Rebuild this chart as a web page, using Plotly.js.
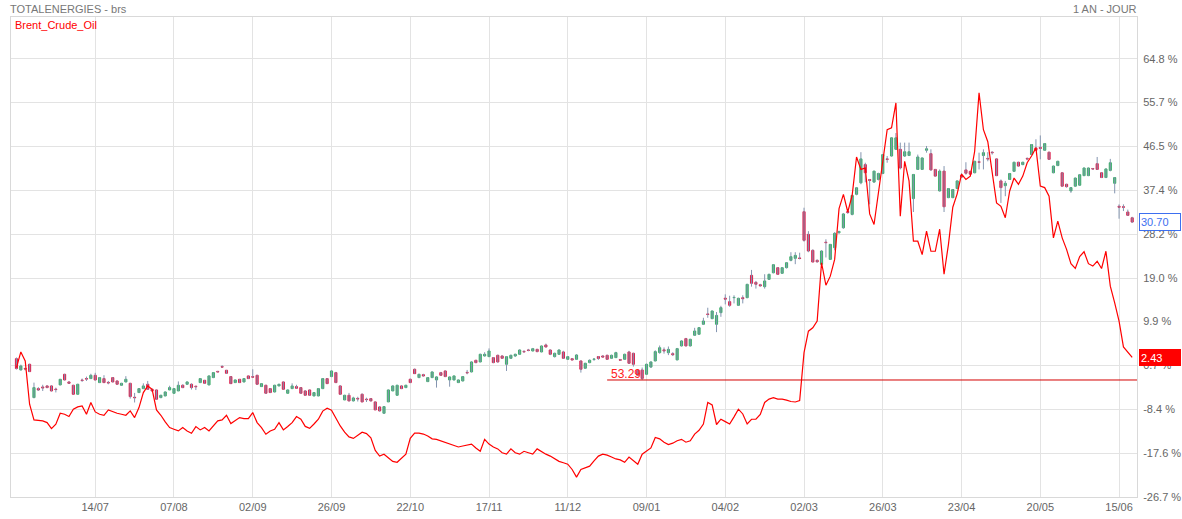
<!DOCTYPE html>
<html>
<head>
<meta charset="utf-8">
<script src="https://cdn.plot.ly/plotly-3.0.1.min.js"></script>
<style>html,body{margin:0;padding:0;background:#fff;}#chart{width:1182px;height:519px;}</style>
</head>
<body>
<div id="chart"></div>
<script>
// ---------- DATA (percent change shown on the right axis) ----------
const firstDay = '2025-06-18';
const holidays = ['2025-12-25','2025-12-26','2026-01-01','2026-04-03','2026-04-06','2026-05-01'];
const tickDates = ['2025-07-14','2025-08-07','2025-09-02','2025-09-26','2025-10-22','2025-11-17','2025-12-11','2026-01-09','2026-02-04','2026-03-02','2026-03-26','2026-04-23','2026-05-20','2026-06-15'];
const tickLabels = ['14/07','07/08','02/09','26/09','22/10','17/11','11/12','09/01','04/02','02/03','26/03','23/04','20/05','15/06'];
const yTicks = [64.8, 55.7, 46.5, 37.4, 28.2, 19.0, 9.9, 0.7, -8.4, -17.6, -26.7];

const openP = [2.16,-0.2,0.1,0.98,-5.98,-4.1,-3.75,-3.54,-3.54,-4.2,-3.33,-1.11,-2.71,-3.4,-5.28,-2.3,-2.0,-2.01,-1.32,-2.85,-2.01,-2.8,-1.8,-2.5,-3.4,-2.71,-2.99,-5.9,-4.93,-4.1,-3.19,-4.24,-4.38,-5.98,-5.63,-4.38,-5.07,-4.59,-3.4,-3.19,-3.19,-3.6,-2.85,-2.36,-3.33,-1.8,-0.5,0.5,-0.27,-1.59,-2.85,-2.15,-2.71,-1.45,-1.6,-1.32,-3.68,-3.4,-4.1,-4.8,-3.54,-2.71,-5.07,-4.1,-3.68,-3.89,
-4.59,-4.38,-5.63,-5.63,-4.1,-2.01,-1.59,-0.76,-3.54,-6.47,-5.49,-6.67,-6.15,-5.28,-6.3,-6.19,-6.88,-7.93,-9.25,-6.88,-4.59,-5.49,-3.54,-3.89,-2.15,-0.06,-1.8,-1.18,-2.64,-1.8,-2.29,-0.76,-0.41,-2.29,-2.29,-2.85,-2.5,-0.7,-0.62,1.82,1.47,2.72,2.58,2.37,2.86,2.72,0.98,2.23,2.72,3.07,3.68,3.95,3.76,4.11,3.56,5.02,3.97,2.58,3.07,3.56,2.02,2.16,2.02,1.68,0.15,1.33,2.0,2.6,2.72,2.86,2.23,2.37,1.95,2.02,3.56,3.28,-0.3,-0.2,-1.1,0.4,1.68,
3.42,4.0,3.4,3.2,1.9,4.82,6.35,4.82,7.04,7.25,9.34,11.5,10.52,9.34,11.77,14.8,14.07,14.9,13.3,14.9,14.9,19.57,18.1,17.6,17.2,18.73,20.1,21.17,19.99,21.17,22.7,23.12,23.2,32.86,28.13,24.79,22.7,21.87,26.5,22.9,25.34,
28.5,29.5,32.9,32.3,36.5,38.9,42.7,39.6,39.05,39.6,40.86,43.9,44.5,45.9,45.9,44.5,44.6,35.6,41.7,41.7,45.7,45.0,41.7,37.2,41.35,35.8,35.8,37.7,40.5,41.6,41.3,41.0,43.3,44.6,44.0,45.3,43.9,39.3,38.3,39.6,41.3,43.2,42.7,44.0,44.8,46.2,46.3,45.7,45.3,41.0,42.5,41.0,38.6,37.2,38.2,38.4,40.4,40.4,41.9,42.9,41.0,40.0,41.5,38.8,34.0,33.9,32.8,31.6];
const highP = [2.4,0.9,0.3,1.1,-2.85,-3.8,-3.3,-3.4,-3.4,-3.9,-2.1,-1.0,-2.6,-3.3,-3.1,-2.0,-1.6,-1.0,-0.8,-1.7,-1.3,-2.5,-1.7,-2.4,-2.9,-1.5,-2.9,-5.0,-4.0,-3.0,-2.5,-4.1,-4.3,-5.4,-4.7,-3.5,-4.0,-2.6,-3.2,-2.6,-3.0,-3.5,-1.9,-2.3,-1.4,-0.7,-0.4,0.8,-0.2,-1.5,-2.2,-2.1,-1.9,-1.4,-0.06,-1.2,-3.0,-3.3,-4.0,-3.3,-3.1,-2.6,-4.3,-3.0,-3.3,-3.8,
-4.4,-4.3,-4.9,-4.0,-1.9,-1.9,-0.3,-0.6,-3.4,-5.4,-5.0,-5.8,-5.8,-5.1,-6.0,-6.1,-6.8,-7.8,-7.8,-4.3,-3.4,-3.3,-3.4,-3.3,-2.0,0.1,-1.0,-1.0,-1.7,-0.5,-1.5,-0.6,-0.3,-1.6,-1.4,-2.2,-1.5,-0.2,1.6,1.9,3.2,3.5,4.3,2.5,3.0,2.9,2.7,3.0,3.2,4.1,3.9,4.2,4.4,4.2,4.9,5.3,4.1,3.4,4.1,3.8,2.7,2.3,3.1,1.8,1.3,2.0,2.3,2.7,2.9,3.0,3.0,3.6,2.1,3.2,3.8,3.4,0.0,0.3,1.1,1.6,3.9,
4.9,4.5,4.7,3.5,4.4,6.0,6.5,6.3,8.6,8.7,10.7,12.8,12.2,11.9,13.2,15.6,15.3,15.4,14.9,15.4,17.8,20.7,18.4,17.8,19.8,19.9,21.9,21.3,21.3,22.3,24.4,24.4,24.3,33.7,28.8,25.0,22.9,24.8,27.1,26.1,28.6,
28.9,32.6,33.2,36.4,38.0,45.3,43.1,39.7,41.4,41.0,44.9,44.5,48.4,49.3,47.3,47.3,47.3,40.7,44.8,44.2,46.6,45.9,41.8,41.7,42.4,37.8,37.6,39.4,40.9,43.2,41.4,43.5,45.2,45.9,45.3,45.5,44.0,39.6,39.3,40.9,43.3,43.3,43.3,44.2,47.0,48.0,48.8,47.2,45.4,42.5,43.5,41.1,38.7,38.0,40.0,40.7,42.1,42.1,42.0,44.3,41.1,41.9,43.9,40.1,34.4,34.4,33.3,31.8];
const lowP = [-0.1,-0.3,-0.3,-0.6,-6.1,-4.6,-4.6,-4.0,-4.7,-4.9,-3.4,-2.4,-3.1,-5.3,-5.3,-2.7,-2.5,-2.1,-2.4,-2.9,-2.9,-3.2,-2.8,-3.3,-3.5,-2.8,-6.19,-7.0,-5.0,-4.2,-4.3,-4.7,-6.4,-6.1,-5.7,-4.4,-5.1,-4.6,-4.0,-3.3,-4.3,-4.4,-2.9,-3.1,-3.4,-1.9,-0.7,0.3,-1.0,-3.1,-2.9,-2.9,-2.8,-2.1,-1.8,-3.3,-3.7,-5.2,-5.0,-4.9,-3.6,-4.3,-5.1,-4.2,-4.1,-5.2,
-5.6,-5.6,-5.7,-5.7,-4.2,-3.1,-1.7,-2.9,-5.4,-6.5,-6.8,-6.8,-6.8,-6.95,-6.9,-6.8,-8.6,-8.9,-9.4,-6.9,-4.6,-5.5,-4.2,-4.0,-2.9,-1.0,-1.9,-1.6,-2.7,-1.9,-3.89,-1.4,-1.7,-3.7,-2.4,-2.9,-2.6,-1.1,-0.7,1.2,1.4,2.6,2.5,1.2,1.3,2.1,-0.41,2.1,2.5,3.0,3.4,3.7,3.7,3.5,3.5,4.5,2.9,2.4,3.0,2.1,1.9,1.8,1.9,-0.76,0.0,1.2,1.7,1.9,2.4,1.9,2.1,2.3,1.7,1.9,1.1,0.5,-1.5,-2.3,-1.2,0.2,1.6,
3.2,3.2,2.9,2.7,1.8,4.7,4.7,4.7,6.9,7.1,9.2,10.7,10.4,7.7,10.9,13.5,13.0,13.7,13.2,13.7,14.8,17.2,16.8,17.2,16.8,18.6,20.0,19.7,19.9,21.0,22.5,21.9,22.9,26.6,24.4,22.3,22.2,21.7,23.3,22.8,24.8,
28.2,29.3,32.4,32.1,36.3,38.6,39.0,34.4,38.9,39.4,40.7,43.1,44.4,45.8,41.7,44.3,44.5,32.8,41.6,41.6,45.2,41.4,40.2,37.1,32.8,35.7,35.7,37.6,39.9,40.6,40.6,40.9,41.7,41.7,43.4,44.8,40.3,34.7,36.1,39.5,41.2,42.3,42.6,43.6,44.7,45.7,43.8,45.6,43.7,40.9,42.4,38.1,37.9,36.8,38.1,38.3,40.3,40.3,41.6,41.6,39.9,39.9,41.3,36.7,31.4,33.0,32.0,30.5];
const closeP = [0.08,0.63,0.0,-0.55,-3.89,-4.38,-3.95,-3.89,-4.59,-4.3,-2.15,-2.29,-2.99,-5.28,-3.19,-2.4,-2.1,-1.32,-2.29,-1.8,-2.85,-2.9,-2.71,-3.19,-2.99,-2.15,-5.77,-6.0,-4.1,-3.54,-4.24,-4.59,-6.33,-5.49,-4.8,-3.89,-4.1,-3.4,-3.89,-2.71,-3.89,-3.7,-2.01,-2.99,-1.45,-0.76,-0.6,0.4,-0.9,-3.06,-2.29,-2.85,-2.01,-2.01,-1.7,-3.19,-3.06,-5.07,-4.93,-3.4,-3.19,-4.24,-4.38,-3.54,-4.03,-5.07,
-5.49,-5.49,-4.93,-4.1,-2.01,-3.06,-0.41,-2.85,-5.28,-5.49,-6.67,-6.05,-6.25,-6.88,-6.4,-6.67,-8.55,-8.76,-7.86,-4.38,-3.54,-3.4,-4.1,-3.4,-2.85,-0.97,-1.11,-1.45,-1.8,-0.62,-1.66,-1.32,-1.59,-1.66,-1.45,-2.29,-1.59,-0.8,1.47,1.33,3.07,3.07,3.76,1.33,1.47,2.23,2.58,2.86,3.07,3.97,3.6,3.9,4.25,3.63,4.81,4.6,3.07,3.28,3.97,2.23,2.58,1.89,2.93,-0.06,1.19,1.82,2.05,2.2,2.51,2.02,2.86,3.42,1.85,3.07,1.19,0.98,-1.3,-2.0,0.99,1.47,3.63,
4.45,3.8,4.1,3.0,4.26,5.86,4.82,6.21,7.94,8.64,10.03,11.4,12.12,11.2,12.82,14.6,13.3,14.95,14.77,14.7,17.69,17.9,17.7,17.4,18.4,19.78,21.8,19.78,21.17,22.21,23.47,23.74,23.1,26.88,24.65,22.35,22.4,24.65,26.4,26.04,28.34,
28.7,32.4,32.7,36.27,37.87,43.9,41.0,39.4,41.35,40.86,44.8,43.8,48.3,48.3,42.0,45.4,45.4,40.65,44.3,44.1,46.0,41.6,40.3,41.35,33.9,37.7,37.5,39.3,40.1,40.9,40.7,43.4,43.2,45.2,43.9,45.2,40.4,37.9,38.8,40.85,43.2,42.4,43.2,43.9,46.9,45.7,46.1,47.1,43.8,42.4,43.4,38.2,38.1,37.9,39.9,40.6,42.0,42.0,41.8,41.7,40.0,41.8,43.1,40.0,33.8,33.8,32.1,30.7];
const brent = [0.3,3.56,1.68,-7.37,-10.64,-10.71,-10.85,-11.2,-12.45,-11.55,-9.25,-9.46,-9.94,-8.41,-7.93,-7.72,-9.46,-7.02,-8.97,-9.46,-9.67,-8.55,-8.97,-9.25,-9.46,-9.67,-8.76,-10.15,-8.07,-4.93,-3.54,-4.24,-8.55,-9.67,-11.06,-12.24,-12.59,-12.94,-12.24,-12.94,-13.42,-12.03,-12.73,-12.24,-12.94,-11.89,-10.85,-10.64,-9.67,-11.41,-10.85,-10.15,-10.36,-10.36,-9.11,-11.2,-12.24,-13.63,-12.94,-12.59,-11.2,-12.73,-12.03,-11.2,-9.94,-10.5,
-12.0,-12.4,-11.5,-10.5,-8.8,-8.2,-8.6,-10.3,-11.9,-13.2,-14.2,-14.5,-13.8,-13.2,-13.5,-14.4,-17.0,-18.2,-17.8,-18.6,-19.3,-19.5,-18.6,-17.8,-14.5,-13.4,-13.4,-13.6,-14.0,-14.6,-14.7,-15.0,-15.4,-15.7,-16.0,-16.3,-16.1,-15.9,-15.7,-16.5,-17.2,-14.7,-15.7,-16.3,-16.7,-17.5,-17.8,-16.7,-17.5,-17.8,-17.2,-17.5,-17.8,-16.7,-17.3,-17.8,-18.2,-18.8,-19.3,-19.6,-19.9,-21.0,-22.6,-21.0,-20.6,-20.3,-19.2,-18.2,-17.8,-18.0,-18.4,-18.8,-19.0,-19.5,-18.4,-19.2,-19.9,-17.8,-17.2,-16.5,-14.3,
-14.6,-15.3,-15.8,-15.5,-15.0,-14.7,-15.3,-15.0,-13.6,-12.8,-11.5,-7.0,-7.5,-11.6,-10.5,-11.0,-11.5,-10.0,-8.4,-9.4,-11.5,-10.5,-10.5,-9.5,-7.0,-6.3,-6.0,-6.3,-6.3,-6.5,-6.8,-6.9,-6.6,3.4,7.9,8.6,10.0,22.2,17.5,19.4,22.9,
33.5,36.5,32.8,36.3,44.3,41.7,42.0,32.4,30.2,36.6,43.0,50.0,50.4,55.6,31.9,43.4,39.3,26.7,26.7,23.9,28.8,24.6,24.6,29.2,19.8,26.0,33.8,36.6,40.7,39.6,40.3,45.5,57.7,50.0,47.5,41.5,34.7,34.0,31.6,37.2,39.9,38.6,40.3,43.1,44.5,46.2,38.2,37.9,36.1,27.4,30.9,27.4,25.0,22.0,21.0,23.5,24.5,22.0,21.5,22.5,21.0,24.6,17.3,13.8,10.0,4.6,3.5,2.43];
const markedLowDate = '2026-01-08';
const lowPriceText = '53.29';
const titleText = 'TOTALENERGIES - brs';
const periodText = '1 AN - JOUR';
const seriesName = 'Brent_Crude_Oil';

// ---------- trading calendar ----------
function tradingDays(start, n, hol) {
  const out = []; const d = new Date(start + 'T00:00:00Z');
  while (out.length < n) {
    const s = d.toISOString().slice(0, 10); const wd = d.getUTCDay();
    if (wd !== 0 && wd !== 6 && hol.indexOf(s) < 0) out.push(s);
    d.setUTCDate(d.getUTCDate() + 1);
  }
  return out;
}
const N = closeP.length;
const dates = tradingDays(firstDay, N, holidays);
const idx = dates.map((_, i) => i);
const tickIdx = tickDates.map(t => dates.indexOf(t));

// wicks
const wx = [], wy = [];
for (let i = 0; i < N; i++) { wx.push(i, i, null); wy.push(highP[i], lowP[i], null); }
const bodyHi = openP.map((o, i) => Math.max(o, closeP[i]));
const bodyLo = openP.map((o, i) => Math.min(o, closeP[i]));

const lowIdx = dates.indexOf(markedLowDate);
const lowVal = lowP[lowIdx];

const GREEN = '#3daf6b', RED = '#da2350', WICK = '#8495b0';
const xRange = [-1.25, N + 0.1];

const traces = [
  {type: 'scatter', mode: 'lines', x: wx, y: wy, line: {color: WICK, width: 1}, hoverinfo: 'skip', showlegend: false, connectgaps: false},
  {type: 'candlestick', x: idx, open: openP, high: bodyHi, low: bodyLo, close: closeP,
   increasing: {line: {color: GREEN, width: 1}, fillcolor: GREEN},
   decreasing: {line: {color: RED, width: 1}, fillcolor: RED},
   whiskerwidth: 0, showlegend: false, hoverinfo: 'skip'},
  {type: 'scatter', mode: 'lines', x: idx, y: brent, line: {color: '#ff0000', width: 1.2}, showlegend: false, hoverinfo: 'skip'}
];

const FONT = 'Liberation Sans, Arial, Helvetica, sans-serif';
const layout = {
  width: 1182, height: 519,
  margin: {l: 11, r: 45, t: 17, b: 22, pad: 0},
  paper_bgcolor: '#ffffff', plot_bgcolor: '#ffffff',
  font: {family: FONT, size: 11, color: '#666666'},
  showlegend: false,
  xaxis: {
    type: 'linear', range: xRange, tickmode: 'array', tickvals: tickIdx, ticktext: tickLabels,
    showgrid: true, gridcolor: '#e3e3e3', gridwidth: 1, zeroline: false,
    showline: true, mirror: true, linecolor: '#d9d9d9', linewidth: 1,
    ticks: '', rangeslider: {visible: false}, fixedrange: true,
    tickfont: {family: FONT, size: 11, color: '#666666'}
  },
  yaxis: {
    side: 'right', range: [-26.75, 73.55], tickmode: 'array', tickvals: yTicks,
    ticktext: yTicks.map(v => v.toFixed(1) + ' %'),
    showgrid: true, gridcolor: '#e3e3e3', gridwidth: 1, zeroline: false,
    showline: true, mirror: true, linecolor: '#d9d9d9', linewidth: 1,
    ticks: '', ticklabelstandoff: 3, fixedrange: true,
    tickfont: {family: FONT, size: 11, color: '#666666'}
  },
  shapes: [
    {type: 'line', xref: 'x', yref: 'y', x0: lowIdx - 8, x1: xRange[1], y0: lowVal, y1: lowVal,
     line: {color: '#d40000', width: 1}}
  ],
  annotations: [
    {xref: 'paper', yref: 'paper', x: 0, y: 1, xanchor: 'left', yanchor: 'bottom', xshift: -3, yshift: 0,
     text: titleText, showarrow: false, font: {family: FONT, size: 11, color: '#777777'}},
    {xref: 'paper', yref: 'paper', x: 1, y: 1, xanchor: 'right', yanchor: 'bottom', xshift: 2, yshift: 0,
     text: periodText, showarrow: false, font: {family: FONT, size: 11, color: '#777777'}},
    {xref: 'paper', yref: 'paper', x: 0, y: 1, xanchor: 'left', yanchor: 'top', xshift: 2, yshift: 0,
     text: seriesName, showarrow: false, font: {family: FONT, size: 11, color: '#ff0000'}},
    {xref: 'x', yref: 'y', x: lowIdx, y: lowVal, xanchor: 'right', yanchor: 'bottom', xshift: 1, yshift: -3,
     text: lowPriceText, showarrow: false, font: {family: FONT, size: 12, color: '#ff2020'}},
    {xref: 'paper', yref: 'y', x: 1, y: closeP[N - 1], xanchor: 'left', yanchor: 'middle', xshift: 2,
     text: closeP[N - 1].toFixed(2), showarrow: false, align: 'left', width: 38, height: 14,
     bgcolor: '#ffffff', bordercolor: '#3d6ff0', borderwidth: 1, borderpad: 1,
     font: {family: FONT, size: 11, color: '#3d6ff0'}},
    {xref: 'paper', yref: 'y', x: 1, y: brent[N - 1], xanchor: 'left', yanchor: 'middle', xshift: 2,
     text: brent[N - 1].toFixed(2), showarrow: false, align: 'left', width: 38, height: 13,
     bgcolor: '#ff0000', bordercolor: '#ff0000', borderwidth: 1, borderpad: 1,
     font: {family: FONT, size: 11, color: '#ffffff'}}
  ]
};

Plotly.newPlot('chart', traces, layout, {staticPlot: true, displayModeBar: false});
</script>
</body>
</html>
